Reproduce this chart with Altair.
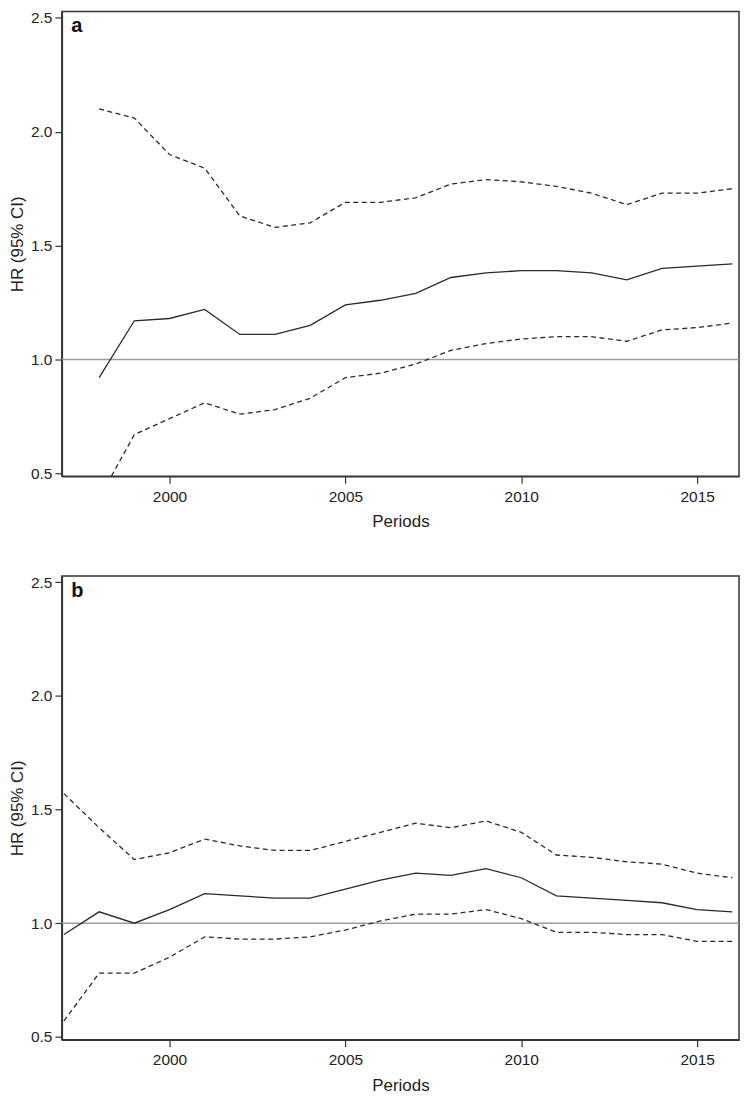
import altair as alt
import pandas as pd

# ---- data ----
years_a = list(range(1998, 2017))
hr_a = [0.92, 1.17, 1.18, 1.22, 1.11, 1.11, 1.15, 1.24, 1.26, 1.29, 1.36, 1.38, 1.39, 1.39, 1.38, 1.35, 1.40, 1.41, 1.42]
lo_a = [0.39, 0.67, 0.74, 0.81, 0.76, 0.78, 0.83, 0.92, 0.94, 0.98, 1.04, 1.07, 1.09, 1.10, 1.10, 1.08, 1.13, 1.14, 1.16]
hi_a = [2.10, 2.06, 1.90, 1.84, 1.63, 1.58, 1.60, 1.69, 1.69, 1.71, 1.77, 1.79, 1.78, 1.76, 1.73, 1.68, 1.73, 1.73, 1.75]

years_b = list(range(1997, 2017))
hr_b = [0.95, 1.05, 1.00, 1.06, 1.13, 1.12, 1.11, 1.11, 1.15, 1.19, 1.22, 1.21, 1.24, 1.20, 1.12, 1.11, 1.10, 1.09, 1.06, 1.05]
lo_b = [0.57, 0.78, 0.78, 0.85, 0.94, 0.93, 0.93, 0.94, 0.97, 1.01, 1.04, 1.04, 1.06, 1.02, 0.96, 0.96, 0.95, 0.95, 0.92, 0.92]
hi_b = [1.57, 1.42, 1.28, 1.31, 1.37, 1.34, 1.32, 1.32, 1.36, 1.40, 1.44, 1.42, 1.45, 1.40, 1.30, 1.29, 1.27, 1.26, 1.22, 1.20]

x_ticks = [2000, 2005, 2010, 2015]
y_ticks = [0.5, 1.0, 1.5, 2.0, 2.5]
reference_hr = [1.0]

FONT = "Liberation Sans"
LINE = "#2a2a2a"
X_DOMAIN = [1996.94, 2016.19]
Y_DOMAIN = [0.4875, 2.528]
W = 679


def xenc():
    return alt.X(
        "year:Q",
        title="Periods",
        scale=alt.Scale(domain=X_DOMAIN, nice=False, zero=False),
        axis=alt.Axis(values=x_ticks, format="d"),
    )


def yenc(field):
    return alt.Y(
        f"{field}:Q",
        title="HR (95% CI)",
        scale=alt.Scale(domain=Y_DOMAIN, nice=False, zero=False),
        axis=alt.Axis(values=y_ticks, format=".1f"),
    )


def panel(years, hr, lo, hi, letter, h):
    df = pd.DataFrame({"year": years, "hr": hr, "lo": lo, "hi": hi})
    ref = pd.DataFrame({"ref": reference_hr})
    base = alt.Chart(df)
    rule = alt.Chart(ref).mark_rule(color="#9c9c9c", strokeWidth=1.5).encode(y=yenc("ref"))
    l_hr = base.mark_line(color=LINE, strokeWidth=1.3, clip=True).encode(x=xenc(), y=yenc("hr"))
    l_lo = base.mark_line(color=LINE, strokeWidth=1.3, strokeDash=[5, 3.5], clip=True).encode(x=xenc(), y=yenc("lo"))
    l_hi = base.mark_line(color=LINE, strokeWidth=1.3, strokeDash=[5, 3.5], clip=True).encode(x=xenc(), y=yenc("hi"))
    lab = alt.Chart(pd.DataFrame({"t": [letter]})).mark_text(
        align="left", baseline="alphabetic", fontWeight="bold", fontSize=20, font=FONT, color="#111"
    ).encode(x=alt.value(9.5), y=alt.value(21), text="t:N")
    return alt.layer(rule, l_lo, l_hi, l_hr, lab).properties(width=W, height=h)


chart = alt.vconcat(
    panel(years_a, hr_a, lo_a, hi_a, "a", 466),
    panel(years_b, hr_b, lo_b, hi_b, "b", 465),
    spacing=43,
).properties(
    padding={"left": 0, "top": 0, "right": 0, "bottom": 0}
).configure_axis(
    labelFont=FONT,
    titleFont=FONT,
    labelFontSize=15.5,
    titleFontSize=17,
    titleFontWeight="normal",
    labelColor="#222",
    titleColor="#222",
    tickColor="#333",
    domainColor="#333",
    tickSize=7,
    tickWidth=1.2,
    domainWidth=1.5,
    grid=False,
).configure_axisX(
    labelPadding=6,
    titlePadding=9,
).configure_axisY(
    labelPadding=3,
    titlePadding=3.5,
).configure_view(
    stroke="#333",
    strokeWidth=1.5,
)

chart.save("out.html", embed_options={"renderer": "svg", "actions": False})
